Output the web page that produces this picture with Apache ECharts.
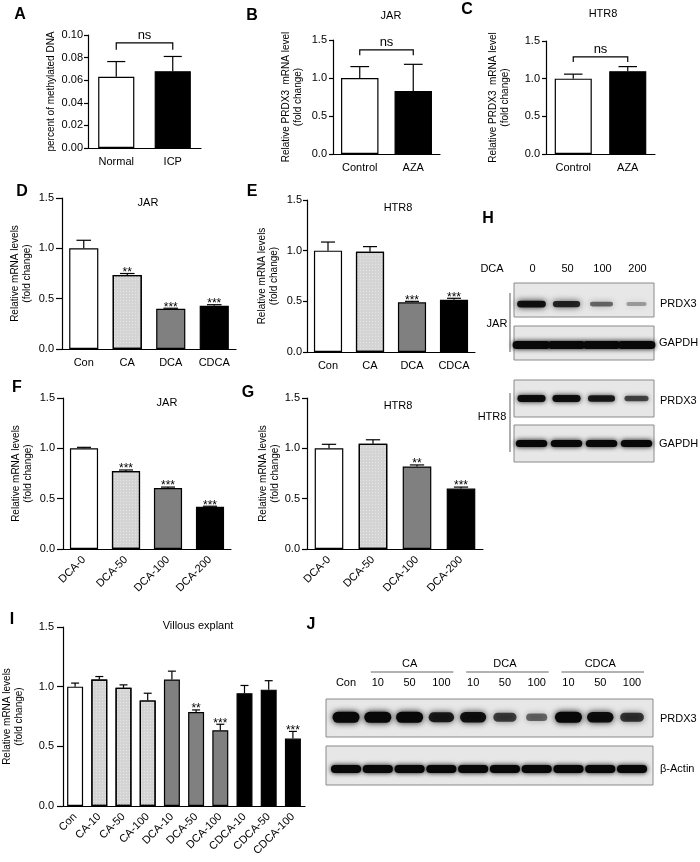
<!DOCTYPE html>
<html><head><meta charset="utf-8">
<script src="https://cdn.jsdelivr.net/npm/echarts@6/dist/echarts.min.js"></script>
<style>html,body{margin:0;padding:0;background:#fff}#c{width:700px;height:862px}</style>
</head><body><div id="c"></div><script>
// ---------------- DATA ----------------
const catsA = ['Normal', 'ICP'];
const valsA = [0.063, 0.068];
const errA  = [0.0765, 0.081];

const catsB = ['Control', 'AZA'];
const valsB = [1.0, 0.83];
const errB  = [1.15, 1.18];

const catsC = ['Control', 'AZA'];
const valsC = [1.0, 1.10];
const errC  = [1.06, 1.16];

const catsD = ['Con', 'CA', 'DCA', 'CDCA'];
const valsD = [1.0, 0.735, 0.40, 0.43];
const errD  = [1.08, 0.75, 0.405, 0.44];
const starsD = ['', '**', '***', '***'];

const catsE = ['Con', 'CA', 'DCA', 'CDCA'];
const valsE = [1.0, 0.99, 0.49, 0.515];
const errE  = [1.085, 1.04, 0.50, 0.53];
const starsE = ['', '', '***', '***'];

const catsF = ['DCA-0', 'DCA-50', 'DCA-100', 'DCA-200'];
const valsF = [1.0, 0.775, 0.605, 0.42];
const errF  = [1.01, 0.785, 0.615, 0.425];
const starsF = ['', '***', '***', '***'];

const catsG = ['DCA-0', 'DCA-50', 'DCA-100', 'DCA-200'];
const valsG = [1.0, 1.045, 0.82, 0.60];
const errG  = [1.04, 1.085, 0.835, 0.615];
const starsG = ['', '', '**', '***'];

const catsI = ['Con', 'CA-10', 'CA-50', 'CA-100', 'DCA-10', 'DCA-50', 'DCA-100', 'CDCA-10', 'CDCA-50', 'CDCA-100'];
const valsI = [1.0, 1.06, 0.99, 0.885, 1.06, 0.788, 0.635, 0.945, 0.975, 0.565];
const errI  = [1.03, 1.085, 1.015, 0.945, 1.13, 0.805, 0.685, 1.01, 1.05, 0.625];
const starsI = ['', '', '', '', '', '**', '***', '', '', '***'];

const bracketA = [0.093, 0.087];
const bracketB = [1.37, 1.30];
const bracketC = [1.29, 1.22];

// western blot band intensities (0..1)
const hLanes = ['0', '50', '100', '200'];
const hJarPRDX3  = [0.92, 0.8, 0.45, 0.2];
const hJarGAPDH  = [1, 1, 1, 1];
const hHtrPRDX3  = [0.95, 0.95, 0.85, 0.6];
const hHtrGAPDH  = [1, 1, 1, 1];
const jLanes = ['Con', '10', '50', '100', '10', '50', '100', '10', '50', '100'];
const jGroups = ['CA', 'DCA', 'CDCA'];
const jPRDX3 = [1, 1, 1, 0.85, 0.92, 0.65, 0.45, 1, 0.95, 0.7];
const jActin = [1, 1, 1, 1, 1, 1, 1, 1, 1, 1];

// ---------------- STYLE ----------------
const FONT = '"Liberation Sans", Arial, sans-serif';
const WHITE = '#ffffff', LIGHT = '#d4d4d4', MID = '#808080', BLACK = '#000000';
const lightDecal = { symbol: 'rect', symbolSize: 1, dashArrayX: [1, 2], dashArrayY: [1, 2], color: 'rgba(255,255,255,0.4)' };

const grids = [], xAxes = [], yAxes = [], series = [], graphics = [];

function barPanel(p) {
  const gi = grids.length;
  grids.push({ left: p.rect[0], top: p.rect[1], width: p.rect[2], height: p.rect[3] });
  xAxes.push({
    gridIndex: gi, type: 'category', data: p.cats,
    axisLine: { lineStyle: { color: '#000', width: 1.2 } },
    axisTick: { alignWithLabel: true, length: 5, lineStyle: { color: '#000', width: 1.2 } },
    axisLabel: { color: '#000', fontFamily: FONT, fontSize: 11, margin: p.rotate ? 9 : 8, rotate: p.rotate || 0, interval: 0 }
  });
  yAxes.push({
    gridIndex: gi, type: 'value', min: 0, max: p.max, interval: p.interval,
    axisLine: { show: true, lineStyle: { color: '#000', width: 1.2 } },
    axisTick: { show: true, length: p.tick, lineStyle: { color: '#000', width: 1.2 } },
    splitLine: { show: false },
    axisLabel: { color: '#000', fontFamily: FONT, fontSize: 11, margin: p.lmargin, formatter: v => v.toFixed(p.dec) },
    name: p.name, nameLocation: 'middle', nameGap: p.nameGap, nameRotate: 90,
    nameTextStyle: { color: '#000', fontFamily: FONT, fontSize: 10, lineHeight: 12 }
  });
  series.push({
    type: 'bar', xAxisIndex: gi, yAxisIndex: gi, barWidth: p.bw, silent: true,
    data: p.vals.map((v, i) => ({ value: v, itemStyle: { color: p.fills[i], decal: p.fills[i] === LIGHT ? lightDecal : null } })),
    itemStyle: { borderColor: '#000', borderWidth: 1.2 }
  });
  const stars = p.stars || [];
  const bwFrac = parseFloat(p.bw) / 100;
  series.push({
    type: 'custom', xAxisIndex: gi, yAxisIndex: gi, z: 5, silent: true,
    data: p.vals.map((v, i) => [i, v, p.errs[i]]),
    renderItem: (params, api) => {
      const i = api.value(0), v = api.value(1), e = api.value(2);
      const p0 = api.coord([i, v]), p1 = api.coord([i, e]);
      const cap = api.size([1, 0])[0] * bwFrac * 0.5;
      const ch = [
        { type: 'line', shape: { x1: p0[0], y1: p0[1], x2: p1[0], y2: p1[1] }, style: { stroke: '#000', lineWidth: 1.2 } },
        { type: 'line', shape: { x1: p1[0] - cap / 2, y1: p1[1], x2: p1[0] + cap / 2, y2: p1[1] }, style: { stroke: '#000', lineWidth: 1.2 } }
      ];
      const s = stars[params.dataIndex];
      if (s) ch.push({ type: 'text', style: { text: s, x: p1[0], y: p1[1] + 5, align: 'center', verticalAlign: 'bottom', font: '12px ' + FONT, fill: '#000' } });
      return { type: 'group', children: ch };
    }
  });
  if (p.bracket) {
    series.push({
      type: 'custom', xAxisIndex: gi, yAxisIndex: gi, z: 5, silent: true,
      data: [[0, 1, p.bracket[0], p.bracket[1]]],
      renderItem: (params, api) => {
        const top = api.value(2), end = api.value(3);
        const a = api.coord([api.value(0), top]), b = api.coord([api.value(1), top]);
        const ae = api.coord([api.value(0), end]), be = api.coord([api.value(1), end]);
        return { type: 'group', children: [
          { type: 'polyline', shape: { points: [ae, a, b, be] }, style: { stroke: '#000', lineWidth: 1.2, fill: null } },
          { type: 'text', style: { text: 'ns', x: (a[0] + b[0]) / 2, y: a[1] - 1, align: 'center', verticalAlign: 'bottom', font: '13px ' + FONT, fill: '#000' } }
        ] };
      }
    });
  }
}

function blotPanel(p) {
  const gi = grids.length;
  grids.push({ left: p.rect[0], top: p.rect[1], width: p.rect[2], height: p.rect[3], show: true, backgroundColor: '#e7e7e7', borderColor: '#8a8a8a', borderWidth: 1 });
  xAxes.push({ gridIndex: gi, type: 'value', min: p.xmin, max: p.xmax, show: false });
  yAxes.push({ gridIndex: gi, type: 'value', min: 0, max: 1, show: false });
  const labels = p.lanes || [];
  series.push({
    type: 'custom', xAxisIndex: gi, yAxisIndex: gi, silent: true,
    data: p.int.map((v, i) => [i, v]),
    renderItem: (params, api) => {
      const i = api.value(0), I = api.value(1);
      const c = api.coord([i, p.bandY]);
      const band = api.size([1, 0])[0];
      const w = band * p.wScale * (0.6 + 0.4 * I);
      const h = p.hBase * (0.45 + 0.55 * I);
      const a = 0.15 + 0.85 * I;
      const ch = [{ type: 'rect', shape: { x: c[0] - w / 2, y: c[1] - h / 2, width: w, height: h, r: h / 2 },
        style: { fill: 'rgba(8,8,8,' + a + ')', shadowBlur: p.blur, shadowColor: 'rgba(8,8,8,' + a + ')' } }];
      if (labels[i] !== undefined) {
        const t = api.coord([i, 1]);
        ch.push({ type: 'text', style: { text: labels[i], x: t[0] + (p.labelDx || 0), y: t[1] - p.labelGap, align: 'center', verticalAlign: 'middle', font: '11px ' + FONT, fill: '#000' } });
      }
      return { type: 'group', children: ch };
    }
  });
}

// ---------------- PANELS ----------------
barPanel({ rect: [88, 35, 113, 113], cats: catsA, vals: valsA, errs: errA, fills: [WHITE, BLACK], max: 0.10, interval: 0.02, dec: 2, tick: 4, lmargin: 5,
  name: 'percent of methylated DNA', nameGap: 30, bw: '64%', bracket: bracketA });
barPanel({ rect: [333, 40, 107, 114], cats: catsB, vals: valsB, errs: errB, fills: [WHITE, BLACK], max: 1.5, interval: 0.5, dec: 1, tick: 4, lmargin: 6,
  name: 'Relative PRDX3  mRNA level\n(fold change)', nameGap: 29, bw: '70%', bracket: bracketB });
barPanel({ rect: [546, 41, 109, 113], cats: catsC, vals: valsC, errs: errC, fills: [WHITE, BLACK], max: 1.5, interval: 0.5, dec: 1, tick: 4, lmargin: 6,
  name: 'Relative PRDX3  mRNA level\n(fold change)', nameGap: 35, bw: '68%', bracket: bracketC });
barPanel({ rect: [62, 198, 174, 151], cats: catsD, vals: valsD, errs: errD, stars: starsD, fills: [WHITE, LIGHT, MID, BLACK], max: 1.5, interval: 0.5, dec: 1, tick: 6, lmargin: 8,
  name: 'Relative mRNA levels\n(fold change)', nameGap: 29, bw: '67%' });
barPanel({ rect: [307, 200, 168, 152], cats: catsE, vals: valsE, errs: errE, stars: starsE, fills: [WHITE, LIGHT, MID, BLACK], max: 1.5, interval: 0.5, dec: 1, tick: 4, lmargin: 5,
  name: 'Relative mRNA levels\n(fold change)', nameGap: 27, bw: '67%' });
barPanel({ rect: [63, 398, 168, 151], cats: catsF, vals: valsF, errs: errF, stars: starsF, fills: [WHITE, LIGHT, MID, BLACK], max: 1.5, interval: 0.5, dec: 1, tick: 6, lmargin: 8,
  name: 'Relative mRNA levels\n(fold change)', nameGap: 29, bw: '67%', rotate: 45 });
barPanel({ rect: [307, 398, 176, 151], cats: catsG, vals: valsG, errs: errG, stars: starsG, fills: [WHITE, LIGHT, MID, BLACK], max: 1.5, interval: 0.5, dec: 1, tick: 5, lmargin: 7,
  name: 'Relative mRNA levels\n(fold change)', nameGap: 26, bw: '65%', rotate: 45 });
barPanel({ rect: [63, 627, 242, 179], cats: catsI, vals: valsI, errs: errI, stars: starsI,
  fills: [WHITE, LIGHT, LIGHT, LIGHT, MID, MID, MID, BLACK, BLACK, BLACK], max: 1.5, interval: 0.5, dec: 1, tick: 6, lmargin: 9,
  name: 'Relative mRNA levels\n(fold change)', nameGap: 38, bw: '66%', rotate: 45 });

// blots H
blotPanel({ rect: [514, 283, 140, 34], int: hJarPRDX3, xmin: -0.5, xmax: 3.5, bandY: 0.38, wScale: 0.85, hBase: 7, blur: 6, lanes: hLanes, labelGap: 14, labelDx: 1 });
blotPanel({ rect: [514, 326, 140, 34], int: hJarGAPDH, xmin: -0.5, xmax: 3.5, bandY: 0.44, wScale: 1.08, hBase: 8, blur: 5 });
blotPanel({ rect: [514, 380, 140, 37], int: hHtrPRDX3, xmin: -0.5, xmax: 3.5, bandY: 0.5, wScale: 0.82, hBase: 7, blur: 5 });
blotPanel({ rect: [514, 425, 140, 37], int: hHtrGAPDH, xmin: -0.5, xmax: 3.5, bandY: 0.5, wScale: 0.9, hBase: 7, blur: 5 });
// blots J
const jRect = [326, 699, 327, 38], jMin = -0.63, jMax = 9.66;
blotPanel({ rect: jRect, int: jPRDX3, xmin: jMin, xmax: jMax, bandY: 0.52, wScale: 0.85, hBase: 11, blur: 6, lanes: jLanes, labelGap: 16 });
blotPanel({ rect: [326, 746, 327, 39], int: jActin, xmin: jMin, xmax: jMax, bandY: 0.41, wScale: 0.95, hBase: 8, blur: 5 });

// ---------------- TEXT / ANNOTATIONS ----------------
function txt(t, x, y, o) {
  o = o || {};
  graphics.push({ type: 'text', x: x, y: y, silent: true,
    style: { text: t, x: 0, y: 0, align: o.align || 'center', verticalAlign: 'middle', font: (o.bold ? 'bold ' : '') + (o.size || 11) + 'px ' + FONT, fill: '#000' } });
}
function ln(x1, y1, x2, y2, color) {
  graphics.push({ type: 'line', silent: true, shape: { x1, y1, x2, y2 }, style: { stroke: color || '#777', lineWidth: 1.2 } });
}
// panel letters
[['A', 20, 15], ['B', 252, 16], ['C', 467, 10], ['D', 22, 192], ['E', 252, 192], ['F', 17, 388], ['G', 248, 393], ['H', 488, 219], ['I', 12, 620], ['J', 311, 625]]
  .forEach(d => txt(d[0], d[1], d[2], { bold: true, size: 16 }));
// titles
txt('JAR', 391, 16); txt('HTR8', 603, 14);
txt('JAR', 148, 203); txt('HTR8', 398, 208);
txt('JAR', 167, 403); txt('HTR8', 398, 406);
txt('Villous explant', 198, 626);
// H labels
txt('DCA', 492, 269);
txt('PRDX3', 660, 304, { align: 'left' }); txt('GAPDH', 659, 343, { align: 'left' });
txt('PRDX3', 660, 401, { align: 'left' }); txt('GAPDH', 659, 444, { align: 'left' });
txt('JAR', 497, 324); txt('HTR8', 492, 417);
ln(510, 293, 510, 352); ln(510, 393, 510, 452);
// J labels
txt('PRDX3', 660, 719, { align: 'left' }); txt('β-Actin', 660, 769, { align: 'left' });
const jLaneX = i => jRect[0] + (i - jMin) / (jMax - jMin) * jRect[2];
jGroups.forEach((g, k) => {
  const a = jLaneX(1 + 3 * k), b = jLaneX(3 + 3 * k);
  txt(g, (a + b) / 2, 664);
  ln(a - 7, 672, b + 12, 672, '#666');
});

const chart = echarts.init(document.getElementById('c'), null, { renderer: 'canvas' });
chart.setOption({
  animation: false,
  backgroundColor: '#fff',
  textStyle: { fontFamily: FONT },
  grid: grids, xAxis: xAxes, yAxis: yAxes, series: series, graphic: graphics
});
</script></body></html>
